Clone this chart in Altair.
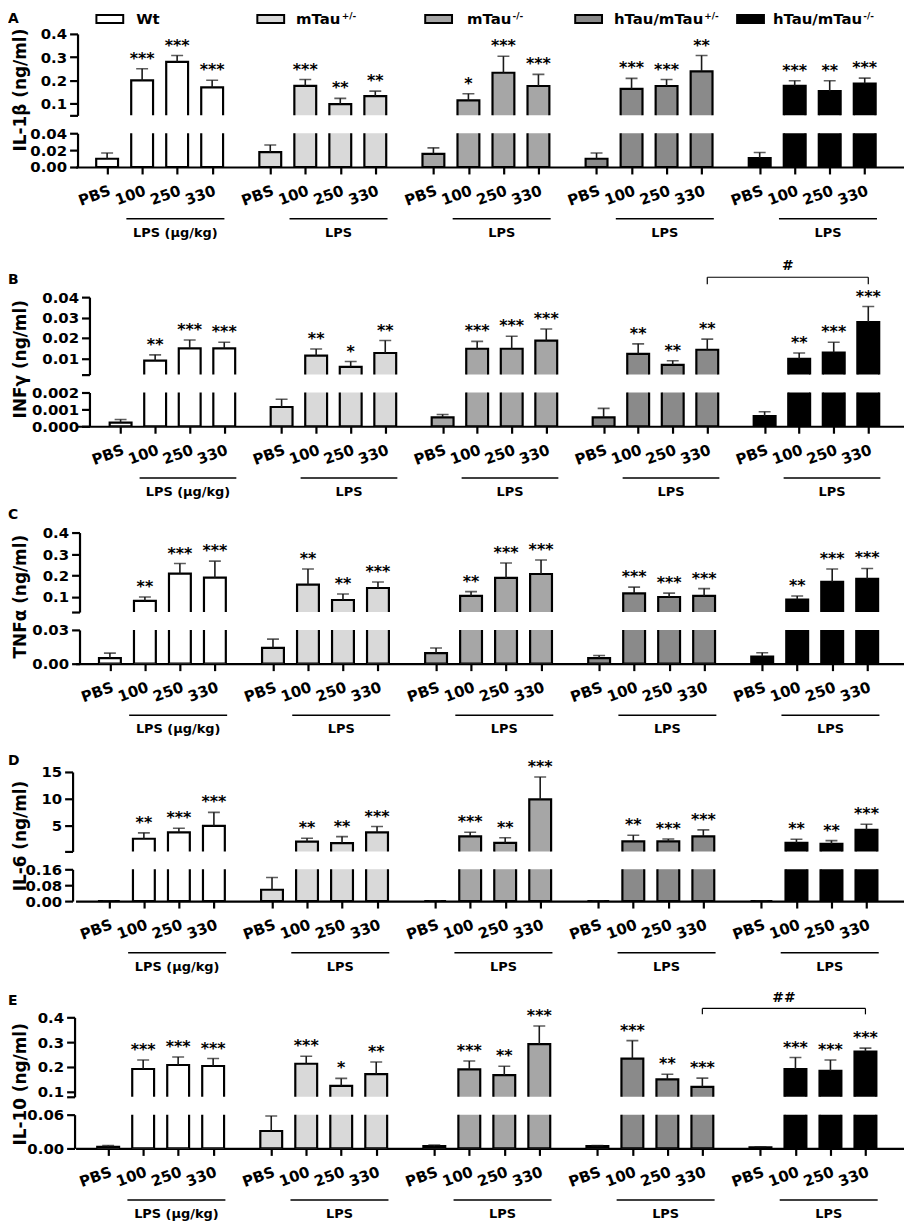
import altair as alt
import pandas as pd

# ---------------- data ----------------
GENOTYPES = ["Wt", "mTau+/-", "mTau-/-", "hTau/mTau+/-", "hTau/mTau-/-"]
GENO_COLORS = ["#ffffff", "#d9d9d9", "#a6a6a6", "#8a8a8a", "#000000"]
DOSES = ["PBS", "100", "250", "330"]
PANELS = ["A", "B", "C", "D", "E"]
Y_TITLES = ["IL-1β (ng/ml)", "INFγ (ng/ml)", "TNFα (ng/ml)", "IL-6 (ng/ml)", "IL-10 (ng/ml)"]
LPS_LABELS = ["LPS (μg/kg)", "LPS", "LPS", "LPS", "LPS"]

# mean per genotype [PBS, 100, 250, 330]; *_UPPER = mean + SEM
IL1B_MEAN = [[0.0098, 0.200, 0.280, 0.170], [0.0176, 0.177, 0.098, 0.133], [0.0156, 0.114, 0.233, 0.176],
             [0.0098, 0.164, 0.176, 0.239], [0.0106, 0.177, 0.154, 0.187]]
IL1B_UPPER = [[0.0165, 0.250, 0.307, 0.201], [0.0260, 0.204, 0.123, 0.154], [0.0227, 0.143, 0.304, 0.226],
              [0.0165, 0.209, 0.204, 0.307], [0.0172, 0.199, 0.199, 0.210]]
IL1B_SIG = [["***", "***", "***"], ["***", "**", "**"], ["*", "***", "***"], ["***", "***", "**"], ["***", "**", "***"]]

INFG_MEAN = [[0.00022, 0.0089, 0.0149, 0.0149], [0.00114, 0.0113, 0.0058, 0.0126], [0.00053, 0.0147, 0.0147, 0.0187],
             [0.00053, 0.0122, 0.0068, 0.0142], [0.00060, 0.0097, 0.0128, 0.0278]]
INFG_UPPER = [[0.00040, 0.0117, 0.0190, 0.0179], [0.00160, 0.0146, 0.0084, 0.0187], [0.00070, 0.0183, 0.0208, 0.0244],
              [0.00106, 0.0171, 0.0088, 0.0194], [0.00086, 0.0126, 0.0179, 0.0354]]
INFG_SIG = [["**", "***", "***"], ["**", "*", "**"], ["***", "***", "***"], ["**", "**", "**"], ["**", "***", "***"]]

TNFA_MEAN = [[0.0050, 0.082, 0.209, 0.190], [0.0141, 0.158, 0.086, 0.142], [0.0094, 0.105, 0.189, 0.207],
             [0.0050, 0.117, 0.100, 0.105], [0.0064, 0.088, 0.170, 0.184]]
TNFA_UPPER = [[0.0094, 0.100, 0.256, 0.267], [0.0218, 0.230, 0.114, 0.170], [0.0140, 0.125, 0.258, 0.272],
              [0.0073, 0.146, 0.118, 0.139], [0.0097, 0.105, 0.230, 0.233]]
TNFA_SIG = [["**", "***", "***"], ["**", "**", "***"], ["**", "***", "***"], ["***", "***", "***"], ["**", "***", "***"]]

IL6_MEAN = [[0.0, 2.6, 3.8, 5.0], [0.057, 2.07, 1.8, 3.8], [0.0, 3.06, 1.83, 9.9],
            [0.0, 2.1, 2.1, 3.06], [0.0, 1.83, 1.64, 4.25]]
IL6_UPPER = [[0.0, 3.7, 4.55, 7.5], [0.119, 2.7, 3.0, 4.87], [0.0, 3.8, 2.8, 14.07],
             [0.0, 3.25, 2.55, 4.25], [0.0, 2.5, 2.26, 5.3]]
IL6_SIG = [["**", "***", "***"], ["**", "**", "***"], ["***", "**", "***"], ["**", "***", "***"], ["**", "**", "***"]]

IL10_MEAN = [[0.003, 0.192, 0.208, 0.204], [0.031, 0.213, 0.124, 0.171], [0.004, 0.190, 0.167, 0.292],
             [0.004, 0.234, 0.150, 0.120], [0.002, 0.192, 0.184, 0.262]]
IL10_UPPER = [[0.005, 0.228, 0.240, 0.234], [0.0575, 0.243, 0.154, 0.220], [0.006, 0.224, 0.203, 0.365],
              [0.005, 0.306, 0.171, 0.155], [0.003, 0.238, 0.228, 0.276]]
IL10_SIG = [["***", "***", "***"], ["***", "*", "**"], ["***", "**", "***"], ["***", "**", "***"], ["***", "***", "***"]]

MEANS = [IL1B_MEAN, INFG_MEAN, TNFA_MEAN, IL6_MEAN, IL10_MEAN]
UPPERS = [IL1B_UPPER, INFG_UPPER, TNFA_UPPER, IL6_UPPER, IL10_UPPER]
SIGS = [IL1B_SIG, INFG_SIG, TNFA_SIG, IL6_SIG, IL10_SIG]
# between-genotype comparison (hTau/mTau+/- 330 vs hTau/mTau-/- 330)
BRACKET_SIG = {1: "#", 4: "##"}

# axis segments (broken y axis)
Y_UPPER = [(0.05, 0.4, [0.1, 0.2, 0.3, 0.4], ".1f"),
           (0.002, 0.04, [0.01, 0.02, 0.03, 0.04], ".2f"),
           (0.03, 0.4, [0.1, 0.2, 0.3, 0.4], ".1f"),
           (0.25, 15, [5, 10, 15], "d"),
           (0.08, 0.4, [0.1, 0.2, 0.3, 0.4], ".1f")]
Y_LOWER = [(0.04, [0, 0.02, 0.04], ".2f"),
           (0.002, [0, 0.001, 0.002], ".3f"),
           (0.03, [0, 0.03], ".2f"),
           (0.16, [0, 0.08, 0.16], ".2f"),
           (0.06, [0, 0.06], ".2f")]

# ---------------- layout / style ----------------
W = 834
GS = 4.66
X_MIN = [-0.76, -1.16, -0.84, -0.81, -0.79]
X_MAX = [22.62, 22.53, 22.55, 22.57, 22.60]
Y_OFFSET = [-2, -14, -4, 3, 1]
H_UP = [82, 78, 80, 80, 80]
H_LOW = [34, 34, 34, 32, 34]
GAP = 18
SPACERS = [95, 71, 73, 81]
TITLE_Y = [56, 62, 64, 64, 67]
LETTER_Y = [-22, -24, -25, -18, -23]
BRACKET_Y = {1: (-20, 7, -31), 4: (-9, 6, -19)}
FONT = "DejaVu Sans"
ERR_COLOR = "#1a1a1a"

rows = []
for r in range(5):
    for g in range(5):
        for d in range(4):
            rows.append(dict(row=r, genotype=GENOTYPES[g], dose=DOSES[d],
                             mean=MEANS[r][g][d], top=UPPERS[r][g][d],
                             stars=(SIGS[r][g][d - 1] if d > 0 else ""),
                             pos=round(g * GS + d, 4)))
df = pd.DataFrame(rows)
POSITIONS = sorted(df["pos"].unique().tolist())

grp = pd.DataFrame(dict(
    lx=[round(g * GS + 1 - 0.45, 4) for g in range(5)],
    rx=[round(g * GS + 3 + 0.35, 4) for g in range(5)],
))
grp["mid"] = (grp["lx"] + grp["rx"]) / 2
grp["label"] = LPS_LABELS

color_scale = alt.Scale(domain=GENOTYPES, range=GENO_COLORS)
label_expr = ("['PBS','100','250','330'][round(datum.value - %s*floor((datum.value + 0.5)/%s))]" % (GS, GS))


def bar_layers(d, x_enc, yenc, base_val, lo=None):
    bd = alt.Chart(d)
    ed = alt.Chart(d)
    if lo is not None:
        bd = bd.transform_filter("datum.mean > %s" % lo)
        ed = ed.transform_filter("datum.top > %s" % lo)
    bars = bd.mark_bar(size=22, stroke="black", strokeWidth=2.2, clip=True).encode(
        x=x_enc, y=yenc("mean"), y2=alt.datum(base_val),
        color=alt.Color("genotype:N", scale=color_scale, legend=None))
    err = ed.mark_rule(color=ERR_COLOR, strokeWidth=1.6, clip=True).encode(
        x=x_enc, y=yenc("mean"), y2="top:Q")
    cap = ed.mark_tick(orient="horizontal", size=12, thickness=1.6, color=ERR_COLOR, clip=True).encode(
        x=x_enc, y=yenc("top"))
    return [bars, err, cap]


items = []
for r in range(5):
    d = df[df.row == r]
    xscale = alt.Scale(domain=[X_MIN[r], X_MAX[r]], nice=False, zero=False)

    # ---------- upper segment ----------
    lo, hi, ticks, fmt = Y_UPPER[r]
    yscale_up = alt.Scale(domain=[lo, hi], nice=False, zero=False)
    yax_up = alt.Axis(values=[lo] + ticks, format=fmt,
                      labelExpr="datum.value <= %s ? '' : datum.label" % (lo * 1.001),
                      title=Y_TITLES[r], titleX=-55 + Y_OFFSET[r], titleY=TITLE_Y[r],
                      titleAngle=-90, titleAlign="center", titleBaseline="middle",
                      offset=Y_OFFSET[r], tickSize=8, labelPadding=3, grid=False)
    x_up = alt.X("pos:Q", scale=xscale, axis=None)

    def yup(field, _s=yscale_up, _a=yax_up):
        return alt.Y(field + ":Q", scale=_s, axis=_a)

    layers = bar_layers(d, x_up, yup, lo - (hi - lo), lo)
    stars = alt.Chart(d).transform_filter("datum.stars != ''").mark_text(
        font=FONT, fontWeight="bold", fontSize=16, baseline="alphabetic", dy=-5, color="black").encode(
        x=x_up, y=yup("top"), text="stars:N")
    layers.append(stars)
    letter = alt.Chart(pd.DataFrame({"t": [PANELS[r]]})).mark_text(
        font=FONT, fontWeight="bold", fontSize=14, align="left", baseline="top", color="black").encode(
        x=alt.value(-68), y=alt.value(LETTER_Y[r]), text="t:N")
    layers.append(letter)

    if r in BRACKET_SIG:
        yb, leg, yt = BRACKET_Y[r]
        x1 = round(3 * GS + 3, 4)
        x2 = round(4 * GS + 3, 4)
        bdf = pd.DataFrame({"x1": [x1], "x2": [x2], "mid": [(x1 + x2) / 2], "t": [BRACKET_SIG[r]]})
        ldf = pd.DataFrame({"x": [x1, x2]})
        layers.append(alt.Chart(bdf).mark_rule(color="black", strokeWidth=1.2).encode(
            x=alt.X("x1:Q", scale=xscale, axis=None), x2="x2:Q", y=alt.value(yb)))
        layers.append(alt.Chart(ldf).mark_rule(color="black", strokeWidth=1.2).encode(
            x=alt.X("x:Q", scale=xscale, axis=None), y=alt.value(yb), y2=alt.value(yb + leg)))
        layers.append(alt.Chart(bdf).mark_text(font=FONT, fontWeight="bold", fontSize=14,
                                               baseline="middle", color="black").encode(
            x=alt.X("mid:Q", scale=xscale, axis=None), y=alt.value(yt), text="t:N"))

    if r == 0:
        BOX_X = [21, 183, 352, 503, 666]
        TEXT_X = [61, 222, 394, 542, 702]
        MAIN = ["Wt", "mTau", "mTau", "hTau/mTau", "hTau/mTau"]
        SUP = ["", "+/-", "-/-", "+/-", "-/-"]
        SUP_DX = [0, 46, 46, 91, 91]
        LEG_Y = -15
        one = pd.DataFrame({"a": [0]})
        for i in range(5):
            layers.append(alt.Chart(one).mark_rect(fill=GENO_COLORS[i], stroke="black", strokeWidth=2).encode(
                x=alt.value(BOX_X[i]), x2=alt.value(BOX_X[i] + 27),
                y=alt.value(LEG_Y - 4), y2=alt.value(LEG_Y + 4)))
            layers.append(alt.Chart(one).mark_text(font=FONT, fontWeight="bold", fontSize=15, align="left",
                                                   baseline="middle", color="black", text=MAIN[i]).encode(
                x=alt.value(TEXT_X[i]), y=alt.value(LEG_Y)))
            if SUP[i]:
                layers.append(alt.Chart(one).mark_text(font=FONT, fontWeight="bold", fontSize=9, align="left",
                                                       baseline="alphabetic", color="black", text=SUP[i],
                                                       dx=SUP_DX[i]).encode(
                    x=alt.value(TEXT_X[i]), y=alt.value(LEG_Y)))

    upper = alt.layer(*layers).properties(width=W, height=H_UP[r])

    # ---------- lower segment ----------
    lhi, lticks, lfmt = Y_LOWER[r]
    yscale_low = alt.Scale(domain=[0, lhi], nice=False, zero=False)
    yax_low = alt.Axis(values=lticks, format=lfmt, title=None, offset=Y_OFFSET[r],
                       tickSize=8, labelPadding=3, grid=False)
    xax_low = alt.Axis(values=POSITIONS, labelExpr=label_expr, labelAngle=-20, labelAlign="right",
                       labelBaseline="top", labelPadding=9, tickSize=7, title=None,
                       labelFlush=False, labelOverlap=False, grid=False)
    x_low = alt.X("pos:Q", scale=xscale, axis=xax_low)

    def ylow(field, _s=yscale_low, _a=yax_low):
        return alt.Y(field + ":Q", scale=_s, axis=_a)

    llayers = bar_layers(d, x_low, ylow, 0)
    llayers.append(alt.Chart(grp).mark_rule(color="black", strokeWidth=1.5).encode(
        x=alt.X("lx:Q", scale=xscale, axis=xax_low), x2="rx:Q", y=alt.value(H_LOW[r] + 52)))
    llayers.append(alt.Chart(grp).mark_text(font=FONT, fontWeight="bold", fontSize=13,
                                            baseline="middle", color="black").encode(
        x=alt.X("mid:Q", scale=xscale, axis=xax_low), y=alt.value(H_LOW[r] + 66), text="label:N"))
    lower = alt.layer(*llayers).properties(width=W, height=H_LOW[r])

    items.append(upper)
    items.append(lower)
    if r < 4:
        spacer = alt.Chart(pd.DataFrame({"v": [0]})).mark_point(opacity=0).encode(
            x=alt.X("v:Q", axis=None), y=alt.Y("v:Q", axis=None)).properties(width=W, height=SPACERS[r])
        items.append(spacer)

chart = alt.vconcat(*items, spacing=GAP, bounds="flush").properties(
    padding={"left": 0, "top": 0, "right": 0, "bottom": 0}).resolve_scale(
    x="independent", y="independent").configure_view(stroke=None).configure_axis(
    labelFont=FONT, labelFontWeight="bold", labelFontSize=15, labelColor="black",
    titleFont=FONT, titleFontWeight="bold", titleFontSize=17, titleColor="black",
    domainColor="black", domainWidth=2.2, tickColor="black", tickWidth=2.2, grid=False)

chart.save("out.html", embed_options={"renderer": "svg", "actions": False})
